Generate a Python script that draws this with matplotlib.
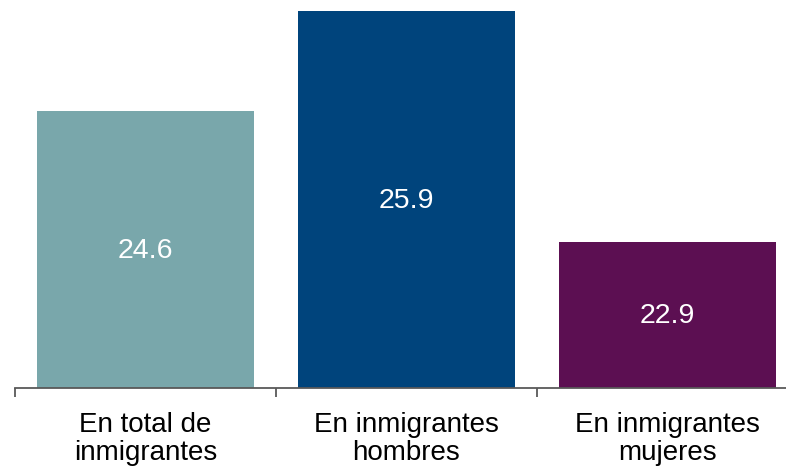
import matplotlib
matplotlib.use("Agg")
import matplotlib.pyplot as plt
from matplotlib.ticker import FixedLocator, NullFormatter, FixedFormatter

plt.rcParams['font.family'] = ['Liberation Sans', 'DejaVu Sans']

categories = ["En total de\ninmigrantes", "En inmigrantes\nhombres", "En inmigrantes\nmujeres"]
values = [24.6, 25.9, 22.9]
labels = ["24.6", "25.9", "22.9"]
colors = ["#79A7AB", "#00447C", "#5C0F52"]

W, H = 786, 470
fig = plt.figure(figsize=(W / 100, H / 100), dpi=100)
ax = fig.add_axes([15 / W, (H - 388) / H, 783 / W, 388 / H])

ymin = 21.0
x = list(range(len(values)))
ax.bar(x, [v - ymin for v in values], bottom=ymin, width=0.828, color=colors)
for xi, v, lab in zip(x, values, labels):
    ax.text(xi, (v + ymin) / 2 - 0.02, lab, ha="center", va="center", color="white", fontsize=20.5)

ax.set_xlim(-0.5, 2.5)
ax.set_ylim(ymin, 26.04)
for s in ["top", "right", "left"]:
    ax.spines[s].set_visible(False)
ax.spines["bottom"].set_color("#595959")
ax.spines["bottom"].set_linewidth(1.3)
ax.set_yticks([])
ax.xaxis.set_major_locator(FixedLocator([-0.5, 0.5, 1.5]))
ax.xaxis.set_major_formatter(NullFormatter())
ax.xaxis.set_minor_locator(FixedLocator(x))
ax.xaxis.set_minor_formatter(FixedFormatter(categories))
ax.tick_params(axis="x", which="major", length=6.5, width=1.3, color="#595959", direction="out")
ax.tick_params(axis="x", which="minor", length=0, pad=17, labelsize=20, labelcolor="black")
for t in ax.xaxis.get_minorticklabels():
    t.set_linespacing(1.1)

fig.savefig("out.png", dpi=100)
